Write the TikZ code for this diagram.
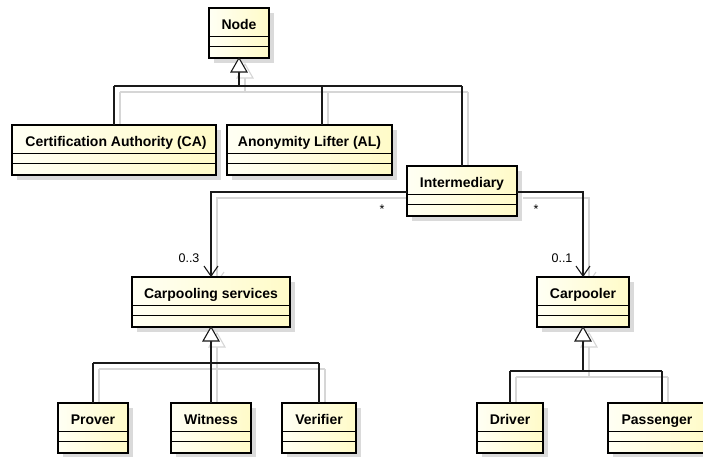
\documentclass[tikz,border=0pt]{standalone}
\usepackage{fontspec}
\setmainfont{Liberation Sans}
\usetikzlibrary{arrows.meta,calc}
\pgfdeclarelayer{paper}
\pgfdeclarelayer{background}
\pgfsetlayers{paper,background,main}

\definecolor{linecol}{HTML}{1A1A1A}
\definecolor{shadowcol}{HTML}{D6D6D6}
\definecolor{boxshadow}{HTML}{DADADA}
\definecolor{fillleft}{HTML}{FFFFF4}
\definecolor{fillright}{HTML}{FFFBC8}

\tikzset{
  classbox/.style={draw=black, line width=2.2pt, inner sep=0pt, outer sep=0pt,
    left color=fillleft, right color=fillright},
  classtitle/.style={font=\fontsize{14}{16}\selectfont\bfseries, inner sep=0pt, anchor=base},
  divider/.style={draw=black, line width=0.9pt},
  conn/.style={draw=linecol, line width=1.1pt},
  connshadow/.style={draw=shadowcol, line width=1.1pt},
  mult/.style={font=\fontsize{12.5}{14}\selectfont, inner sep=0pt},
  assoc/.style={-{Straight Barb[length=10pt,width=14pt,line width=1.1pt]}},
}

% class box: name, x1, y1, x2, y2, title, title x-offset
\newcommand{\umlclass}[7]{%
  \begin{pgfonlayer}{background}
    \fill[boxshadow] (#2+5,#3+5) rectangle (#4+5,#5+5);
  \end{pgfonlayer}
  \node[classbox, anchor=north west, minimum width={(#4-#2)*1pt},
        minimum height={(#5-#3)*1pt}] (#1) at (#2,#3) {};
  \draw[divider] ([yshift=-28pt]#1.north west) -- ([yshift=-28pt]#1.north east);
  \draw[divider] ([yshift=-38pt]#1.north west) -- ([yshift=-38pt]#1.north east);
  \node[classtitle] (#1-title) at ([xshift=#7pt,yshift=-21pt]#1.north) {#6};
}

% connector with a light offset copy underneath
\newcommand{\shadowdraw}[2]{%
  \begin{pgfonlayer}{background}
    \draw[connshadow, transform canvas={xshift=6pt,yshift=-6pt}, #1] #2;
  \end{pgfonlayer}
  \draw[conn, #1] #2;
}

% hollow generalization triangle hanging below a class
\newcommand{\gentri}[1]{%
  \begin{pgfonlayer}{background}
    \draw[connshadow, fill=white, transform canvas={xshift=6pt,yshift=-6pt}]
      (#1.south) -- ++(-8,14) -- ++(16,0) -- cycle;
  \end{pgfonlayer}
  \draw[conn, fill=white, line join=miter] (#1.south) -- ++(-8,14) -- ++(16,0) -- cycle;
}

\begin{document}
\begin{tikzpicture}[x=1pt, y=-1pt]
  \useasboundingbox (0,0) rectangle (703,456);
  \begin{pgfonlayer}{paper}
    \fill[white] (0,0) rectangle (703,456);
  \end{pgfonlayer}
  \clip (0,0) rectangle (703,456);

  % classes
  \umlclass{node}{209}{8}{269}{58}{Node}{0}
  \umlclass{ca}{12}{125}{216}{175}{Certification Authority (CA)}{2}
  \umlclass{al}{227}{125}{392}{175}{Anonymity Lifter (AL)}{0}
  \umlclass{int}{407}{166}{517}{216}{Intermediary}{0}
  \umlclass{cps}{132}{277}{290}{327}{Carpooling services}{0}
  \umlclass{cpl}{537}{277}{629}{327}{Carpooler}{0}
  \umlclass{prover}{58}{403}{128}{453}{Prover}{0}
  \umlclass{witness}{171}{403}{251}{453}{Witness}{0}
  \umlclass{verifier}{282}{403}{356}{453}{Verifier}{0}
  \umlclass{driver}{477}{403}{543}{453}{Driver}{0}
  \umlclass{passenger}{608}{403}{708}{453}{Passenger}{-1}

  % generalization: Node
  \coordinate (g1base) at ($(node.south)+(0,14)$);
  \coordinate (g1bus) at (239,86);
  \coordinate (alDrop) at (322,86);
  \shadowdraw{}{(g1base) -- (g1bus)}
  \shadowdraw{}{(ca.north |- g1bus) -- (int.north |- g1bus)}
  \shadowdraw{}{(ca.north |- g1bus) -- (ca.north)}
  \shadowdraw{}{(alDrop) -- (alDrop |- al.north)}
  \shadowdraw{}{(int.north |- g1bus) -- (int.north)}
  \gentri{node}

  % generalization: Carpooling services
  \coordinate (g2base) at ($(cps.south)+(0,14)$);
  \coordinate (g2bus) at (211,363);
  \shadowdraw{}{(g2base) -- (g2bus)}
  \shadowdraw{}{(prover.north |- g2bus) -- (verifier.north |- g2bus)}
  \shadowdraw{}{(prover.north |- g2bus) -- (prover.north)}
  \shadowdraw{}{(g2bus) -- (witness.north)}
  \shadowdraw{}{(verifier.north |- g2bus) -- (verifier.north)}
  \gentri{cps}

  % generalization: Carpooler
  \coordinate (g3base) at ($(cpl.south)+(0,14)$);
  \coordinate (g3bus) at (583,371);
  \coordinate (paDrop) at (662,371);
  \shadowdraw{}{(g3base) -- (g3bus)}
  \shadowdraw{}{(driver.north |- g3bus) -- (paDrop)}
  \shadowdraw{}{(driver.north |- g3bus) -- (driver.north)}
  \shadowdraw{}{(paDrop) -- (paDrop |- passenger.north)}
  \gentri{cpl}

  % associations from Intermediary
  \coordinate (intW) at (407,192);
  \coordinate (intE) at (517,192);
  \shadowdraw{assoc}{(intW) -| (cps.north)}
  \shadowdraw{assoc}{(intE) -| (cpl.north)}

  % multiplicities
  \node[mult] (m1) at (382,209) {*};
  \node[mult] (m2) at (536,209) {*};
  \node[mult] (m3) at (189,258) {0..3};
  \node[mult] (m4) at (562,258) {0..1};
\end{tikzpicture}
\end{document}
